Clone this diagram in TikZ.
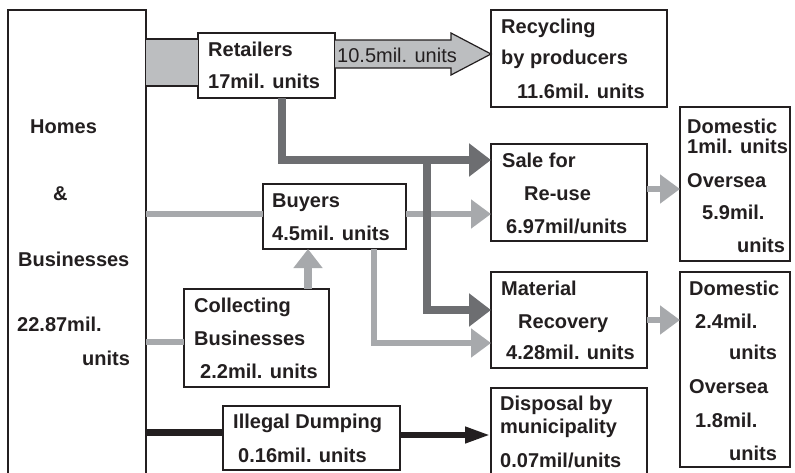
\documentclass[tikz,border=0pt]{standalone}
\usepackage{fontspec}
\setmainfont{Liberation Sans}
\usetikzlibrary{arrows.meta,calc}
\definecolor{txt}{HTML}{231F20}
\definecolor{midg}{HTML}{BCBEC0}
\definecolor{dkg}{HTML}{6D6E71}
\definecolor{lgg}{HTML}{A7A9AC}
\tikzset{
  box/.style={draw=txt, line width=1.4pt, inner sep=0pt, outer sep=0pt, anchor=north west},
  lbl/.style={anchor=base west, inner sep=0pt, text=txt, font=\bfseries\fontsize{20}{24}\selectfont},
  lblr/.style={anchor=base west, inner sep=0pt, text=txt, font=\fontsize{20}{24}\selectfont},
  dk/.style={draw=dkg, line width=7.5pt, -{Triangle[length=22pt,width=32pt]}},
  lg/.style={draw=lgg, line width=6pt},
  lga/.style={draw=lgg, line width=6pt, -{Triangle[length=20pt,width=28pt]}},
  blk/.style={draw=txt, line width=6.5pt, -{Triangle[length=26pt,width=15pt]}},
  blkl/.style={draw=txt, line width=7pt},
}
\begin{document}
\begin{tikzpicture}[x=1pt,y=-1pt]
\useasboundingbox (0,0) rectangle (795,472);
\clip (0,0) rectangle (795,472);
\fill[white] (0,0) rectangle (795,472);

% boxes
\node[box, minimum width=138pt, minimum height=480pt] (homes) at (8,10) {};
\node[box, minimum width=137pt, minimum height=65pt] (ret) at (198,33) {};
\node[box, minimum width=176pt, minimum height=97pt] (rec) at (491,10) {};
\node[box, minimum width=156pt, minimum height=97pt] (sale) at (491,144) {};
\node[box, minimum width=110pt, minimum height=154pt] (dom1) at (680,107) {};
\node[box, minimum width=143pt, minimum height=65pt] (buy) at (263,184) {};
\node[box, minimum width=156pt, minimum height=96pt] (mat) at (491,272) {};
\node[box, minimum width=110pt, minimum height=195pt] (dom2) at (680,272) {};
\node[box, minimum width=145pt, minimum height=98pt] (col) at (184,289) {};
\node[box, minimum width=177pt, minimum height=64pt] (ill) at (223,406) {};
\node[box, minimum width=156pt, minimum height=100pt] (disp) at (491,388) {};

% Homes -> Retailers band
\coordinate (hb1) at ($(ret.north west)+(0,6)$);
\coordinate (hb2) at ($(ret.north west)+(0,53)$);
\fill[midg] (homes.east |- hb1) rectangle (hb2);
\draw[txt, line width=1.2pt] (homes.east |- hb1) -- (hb1);
\draw[txt, line width=1.2pt] (homes.east |- hb2) -- (hb2);

% Retailers -> Recycling block arrow
\coordinate (ra) at ($(ret.north east)+(0,7)$);
\coordinate (rb) at ($(ret.north east)+(0,35)$);
\coordinate (rc) at ($(ret.north east)+(0,21)$);
\coordinate (tip) at (rec.west |- rc);
\draw[txt, line width=1.2pt, fill=midg, line join=miter]
  (ra) -- ($(tip |- ra)+(-40,0)$) -- ($(tip)+(-40,-21)$) -- (tip)
  -- ($(tip)+(-40,21)$) -- ($(tip |- rb)+(-40,0)$) -- (rb);
\node[lblr] (l105) at (337,62) {10.5mil. units};

% light gray flows
\coordinate (b1) at ($(buy.north west)+(0,30)$);
\draw[lg] (homes.east |- b1) -- (b1);
\draw[lga] (buy.east |- b1) -- (sale.west |- b1);
\coordinate (c2) at ($(col.north west)+(124,0)$);
\draw[draw=lgg, line width=7.5pt, -{Triangle[length=19pt,width=28pt]}] (c2) -- (buy.south -| c2);
\coordinate (b2) at ($(buy.south west)+(111,0)$);
\coordinate (b3) at ($(b2)+(0,94)$);
\draw[lga] (b2) -- (b3) -- (mat.west |- b3);
\coordinate (cy) at ($(col.north west)+(0,53)$);
\draw[lg] (homes.east |- cy) -- (cy);
\coordinate (d1y) at ($(sale.north east)+(0,45)$);
\draw[lga] (sale.east |- d1y) -- (dom1.west |- d1y);
\draw[lga] (mat.east) -- (dom2.west |- mat.east);

% dark gray flows
\coordinate (r1) at ($(ret.south west)+(84,0)$);
\coordinate (j1) at ($(r1)+(0,62)$);
\draw[dk] (r1) -- (j1) -- (sale.west |- j1);
\coordinate (j2) at ($(j1)+(145,0)$);
\coordinate (j3) at ($(j2)+(0,150)$);
\draw[dk] (j2) -- (j3) -- (mat.west |- j3);

% black flows
\coordinate (iy) at ($(ill.north west)+(0,26)$);
\draw[blkl] (homes.east |- iy) -- (iy);
\coordinate (iy2) at ($(ill.north east)+(0,29)$);
\draw[blk] (iy2) -- (disp.west |- iy2);

% texts
\node[lbl] (h1) at (30,133) {Homes};
\node[lbl] (h2) at (53,200) {\&};
\node[lbl] (h3) at (18,266) {Businesses};
\node[lbl] (h4) at (17,331) {22.87mil.};
\node[lbl] (h5) at (82,365) {units};

\node[lbl] (rt1) at (208,56) {Retailers};
\node[lbl] (rt2) at (208,88) {17mil. units};

\node[lbl] (rc1) at (501,33) {Recycling};
\node[lbl] (rc2) at (501,64) {by producers};
\node[lbl] (rc3) at (517,98) {11.6mil. units};

\node[lbl] (s1) at (502,167) {Sale for};
\node[lbl] (s2) at (524,200) {Re-use};
\node[lbl] (s3) at (506,233) {6.97mil/units};

\node[lbl] (da1) at (687,133) {Domestic};
\node[lbl] (da2) at (687,153) {1mil. units};
\node[lbl] (da3) at (687,187) {Oversea};
\node[lbl] (da4) at (702,219) {5.9mil.};
\node[lbl] (da5) at (737,252) {units};

\node[lbl] (m1) at (501,295) {Material};
\node[lbl] (m2) at (518,328) {Recovery};
\node[lbl] (m3) at (506,359) {4.28mil. units};

\node[lbl] (db1) at (689,295) {Domestic};
\node[lbl] (db2) at (695,328) {2.4mil.};
\node[lbl] (db3) at (729,359) {units};
\node[lbl] (db4) at (689,393) {Oversea};
\node[lbl] (db5) at (695,427) {1.8mil.};
\node[lbl] (db6) at (729,460) {units};

\node[lbl] (dp1) at (500,410) {Disposal by};
\node[lbl] (dp2) at (500,433) {municipality};
\node[lbl] (dp3) at (500,467) {0.07mil/units};

\node[lbl] (by1) at (272,207) {Buyers};
\node[lbl] (by2) at (272,240) {4.5mil. units};

\node[lbl] (cl1) at (194,312) {Collecting};
\node[lbl] (cl2) at (194,345) {Businesses};
\node[lbl] (cl3) at (200,378) {2.2mil. units};

\node[lbl] (il1) at (233,428) {Illegal Dumping};
\node[lbl] (il2) at (238,462) {0.16mil. units};
\end{tikzpicture}
\end{document}
